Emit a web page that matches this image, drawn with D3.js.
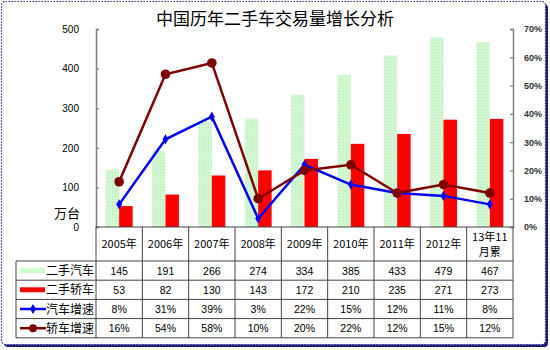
<!DOCTYPE html>
<html>
<head>
<meta charset="utf-8">
<script src="https://cdn.jsdelivr.net/npm/d3@7"></script>
<style>
  html, body { margin: 0; padding: 0; background: #fff; }
  svg { display: block; }
  text { font-family: "Liberation Sans", Arial, sans-serif; }
  .cjk { font-family: "Noto Sans CJK SC", sans-serif; }
</style>
</head>
<body>
<svg id="chart" width="550" height="350"></svg>
<script>
// Chart data
const title = "中国历年二手车交易量增长分析";
const categories = ["2005年", "2006年", "2007年", "2008年", "2009年", "2010年", "2011年", "2012年", "13年11\n月累"];
const usedVehicles = [145, 191, 266, 274, 334, 385, 433, 479, 467];   // 二手汽车 (万台)
const usedCars = [53, 82, 130, 143, 172, 210, 235, 271, 273];         // 二手轿车 (万台)
const vehicleGrowth = [8, 31, 39, 3, 22, 15, 12, 11, 8];             // 汽车增速 (%)
const carGrowth = [16, 54, 58, 10, 20, 22, 12, 15, 12];              // 轿车增速 (%)
const leftTicks = [0, 100, 200, 300, 400, 500];
const rightTicks = [0, 10, 20, 30, 40, 50, 60, 70];
const unitLabel = "万台";

const seriesNames = ["二手汽车", "二手轿车", "汽车增速", "轿车增速"];
const colors = { green: "#ccffcc", red: "#ff0000", blue: "#0000ff", maroon: "#800000" };

const svg = d3.select("#chart");

// Pale green dotted fill for the vehicle bars
const defs = svg.append("defs");
const pat = defs.append("pattern").attr("id", "greenDots")
  .attr("width", 3).attr("height", 3).attr("patternUnits", "userSpaceOnUse");
pat.append("rect").attr("width", 3).attr("height", 3).attr("fill", "#d2f7d2");
pat.append("rect").attr("x", 1).attr("y", 1).attr("width", 1).attr("height", 1).attr("fill", "#b4ebb4");

// Frame with shadow
svg.append("rect").attr("x", 4).attr("y", 4).attr("width", 544).attr("height", 343)
  .attr("rx", 4).attr("fill", "#1b1f7a");
svg.append("rect").attr("x", 1.5).attr("y", 1.5).attr("width", 544).attr("height", 343)
  .attr("rx", 4).attr("fill", "#fff").attr("stroke", "#2a2f9a")
  .attr("stroke-width", 1.2).attr("stroke-dasharray", "1.5,1.5");

// Title
svg.append("text").attr("class", "cjk").attr("x", 275).attr("y", 25)
  .attr("text-anchor", "middle").attr("font-size", 17).attr("fill", "#000").text(title);

// Scales
const plotLeft = 96, plotRight = 513, plotTop = 29, plotBottom = 227;
const x = d3.scaleBand().domain(categories).range([plotLeft, plotRight]).padding(0);
const xs = d3.scaleBand().domain(["v", "c"]).range([0, x.bandwidth()]).paddingInner(0).paddingOuter(0.72);
const yL = d3.scaleLinear().domain([0, 500]).range([plotBottom, plotTop]);
const yR = d3.scaleLinear().domain([0, 70]).range([plotBottom, plotTop]);

// Bars
const g = svg.append("g");
g.selectAll("rect.v").data(usedVehicles).join("rect").attr("class", "v")
  .attr("x", (d, i) => x(categories[i]) + xs("v"))
  .attr("y", d => yL(d))
  .attr("width", xs.bandwidth())
  .attr("height", d => yL(0) - yL(d))
  .attr("fill", "url(#greenDots)");
g.selectAll("rect.c").data(usedCars).join("rect").attr("class", "c")
  .attr("x", (d, i) => x(categories[i]) + xs("c"))
  .attr("y", d => yL(d))
  .attr("width", xs.bandwidth())
  .attr("height", d => yL(0) - yL(d))
  .attr("fill", colors.red);

// Axes
const axisL = d3.axisLeft(yL).tickValues(leftTicks).tickSize(-3).tickPadding(17);
const gL = svg.append("g").attr("transform", `translate(${plotLeft},0)`).call(axisL);
const axisR = d3.axisRight(yR).tickValues(rightTicks).tickSize(-3).tickPadding(11)
  .tickFormat(d => d + "%");
const gR = svg.append("g").attr("transform", `translate(${plotRight},0)`).call(axisR);
[gL, gR].forEach(ax => {
  ax.select(".domain").attr("stroke", "#7f7f7f").attr("stroke-width", 1.5);
  ax.selectAll(".tick line").attr("stroke", "#7f7f7f").attr("stroke-width", 1.2);
  ax.selectAll(".tick text").attr("font-size", 10).attr("fill", "#000")
    .attr("font-family", "'Liberation Sans', Arial, sans-serif");
});
gR.selectAll(".tick text").attr("font-size", 9).attr("font-weight", "bold").attr("fill", "#333");
svg.append("text").attr("class", "cjk").attr("x", 80).attr("y", 218)
  .attr("text-anchor", "end").attr("font-size", 13).text(unitLabel);

// Growth lines
const cx = (d, i) => x(categories[i]) + x.bandwidth() / 2;
const line = d3.line().x(cx).y(d => yR(d));
svg.append("path").datum(vehicleGrowth).attr("d", line)
  .attr("fill", "none").attr("stroke", colors.blue).attr("stroke-width", 2.5);
svg.append("path").datum(carGrowth).attr("d", line)
  .attr("fill", "none").attr("stroke", colors.maroon).attr("stroke-width", 2.5);
const diamond = d3.symbol().type(d3.symbolDiamond).size(30);
svg.append("g").selectAll("path").data(vehicleGrowth).join("path")
  .attr("d", diamond)
  .attr("transform", (d, i) => `translate(${cx(d, i)},${yR(d)})`)
  .attr("fill", colors.blue);
svg.append("g").selectAll("circle").data(carGrowth).join("circle")
  .attr("cx", cx).attr("cy", d => yR(d)).attr("r", 4.8)
  .attr("fill", colors.maroon);

// Data table
const headerBottom = 261;
const rowH = 19.2;
const tableLeft = 16;
const rows = [
  usedVehicles.map(String),
  usedCars.map(String),
  vehicleGrowth.map(d => d + "%"),
  carGrowth.map(d => d + "%")
];
const tg = svg.append("g");
const gridColor = "#444";
// horizontal lines
tg.append("line").attr("x1", plotLeft).attr("x2", plotRight).attr("y1", plotBottom).attr("y2", plotBottom)
  .attr("stroke", gridColor).attr("stroke-width", 1.2);
for (let r = 0; r <= rows.length; r++) {
  const yy = headerBottom + r * rowH;
  tg.append("line").attr("x1", tableLeft).attr("x2", plotRight).attr("y1", yy).attr("y2", yy)
    .attr("stroke", gridColor).attr("stroke-width", 1);
}
const tableBottom = headerBottom + rows.length * rowH;
// vertical lines
tg.append("line").attr("x1", tableLeft).attr("x2", tableLeft).attr("y1", headerBottom).attr("y2", tableBottom)
  .attr("stroke", gridColor);
categories.forEach((c, i) => {
  const xx = x(c);
  tg.append("line").attr("x1", xx).attr("x2", xx).attr("y1", plotBottom).attr("y2", tableBottom)
    .attr("stroke", gridColor);
});
tg.append("line").attr("x1", plotRight).attr("x2", plotRight).attr("y1", plotBottom).attr("y2", tableBottom)
  .attr("stroke", gridColor);

// header labels
categories.forEach((c, i) => {
  const lines = c.split("\n");
  const cxh = x(c) + x.bandwidth() / 2;
  const t = tg.append("text").attr("class", "cjk").attr("text-anchor", "middle")
    .attr("font-size", 11).attr("fill", "#000");
  if (lines.length === 1) {
    t.attr("x", cxh).attr("y", 248).text(lines[0]);
  } else {
    t.append("tspan").attr("x", cxh).attr("y", 241).text(lines[0]);
    t.append("tspan").attr("x", cxh).attr("y", 256).text(lines[1]);
  }
});

// cell values
rows.forEach((row, r) => {
  row.forEach((v, i) => {
    tg.append("text").attr("x", x(categories[i]) + x.bandwidth() / 2)
      .attr("y", headerBottom + r * rowH + rowH / 2 + 4)
      .attr("text-anchor", "middle").attr("font-size", 10.5).attr("fill", "#000").text(v);
  });
});

// legend keys in the first column
seriesNames.forEach((name, r) => {
  const yy = headerBottom + r * rowH + rowH / 2;
  const lg = tg.append("g");
  if (r === 0 || r === 1) {
    lg.append("line").attr("x1", 20).attr("x2", 45).attr("y1", yy).attr("y2", yy)
      .attr("stroke", r === 0 ? colors.green : colors.red).attr("stroke-width", 5);
  } else {
    const col = r === 2 ? colors.blue : colors.maroon;
    lg.append("line").attr("x1", 20).attr("x2", 46).attr("y1", yy).attr("y2", yy)
      .attr("stroke", col).attr("stroke-width", 2.5);
    if (r === 2) {
      lg.append("path").attr("d", diamond).attr("transform", `translate(33,${yy})`).attr("fill", col);
    } else {
      lg.append("circle").attr("cx", 33).attr("cy", yy).attr("r", 4).attr("fill", col);
    }
  }
  lg.append("text").attr("class", "cjk").attr("x", 46).attr("y", yy + 4.5)
    .attr("font-size", 12).attr("fill", "#000").text(name);
});
</script>
</body>
</html>
